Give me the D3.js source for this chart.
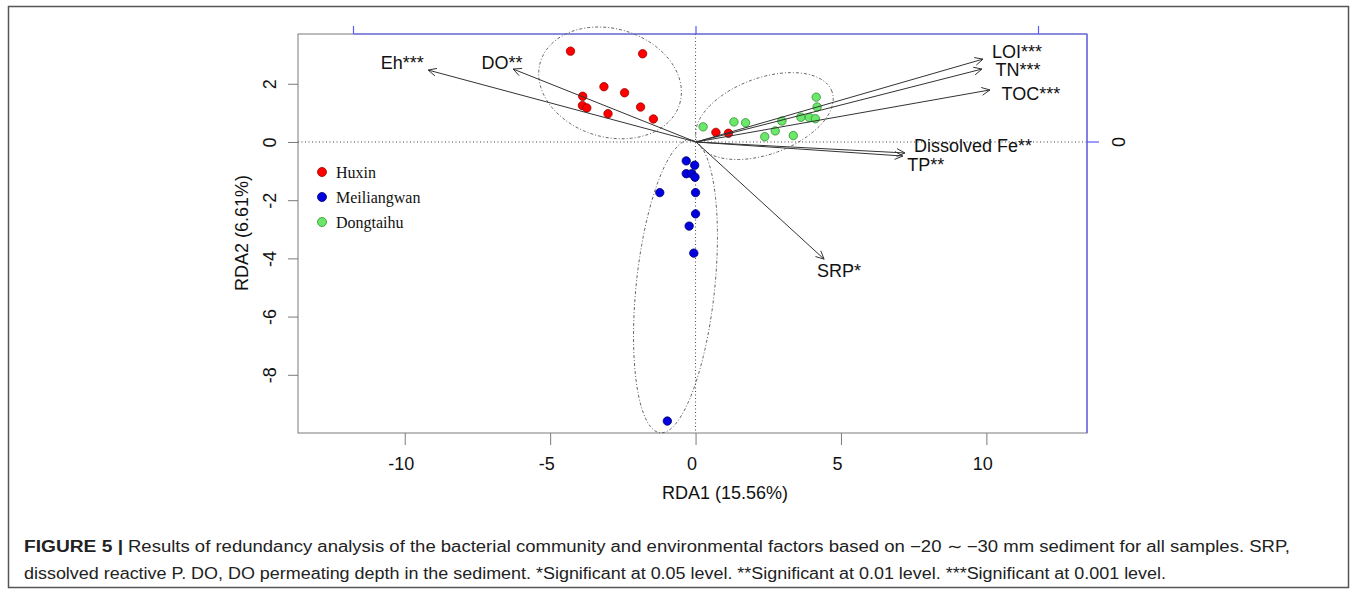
<!DOCTYPE html>
<html><head><meta charset="utf-8">
<script src="https://cdn.jsdelivr.net/npm/d3@7"></script>
<style>body{margin:0;background:#fff}svg{display:block}</style>
</head><body>
<svg id="c" width="1357" height="593"></svg>
<script>
// ---------- data ----------
const groups = ["Huxin", "Meiliangwan", "Dongtaihu"];
const huxin = [[-4.30,3.12],[-1.82,3.03],[-3.15,1.90],[-2.44,1.69],[-3.88,1.57],[-3.89,1.25],
               [-3.74,1.17],[-3.01,0.97],[-1.89,1.20],[-1.45,0.79],[0.70,0.33],[1.13,0.30]];
const meiliangwan = [[-0.32,-0.65],[-0.03,-0.80],[-0.32,-1.09],[-0.13,-1.09],[-0.02,-1.21],
                     [-1.23,-1.74],[0.00,-1.74],[0.00,-2.47],[-0.22,-2.89],[-0.06,-3.82],[-0.97,-9.59]];
const dongtaihu = [[0.26,0.52],[1.32,0.69],[1.72,0.66],[2.38,0.18],[2.74,0.38],[2.97,0.72],
                   [3.36,0.22],[3.62,0.85],[3.91,0.84],[4.12,0.80],[4.15,1.54],[4.18,1.20]];
// dispersion ellipses (centre, semi-axes, angle of major axis in degrees)
const ellipseCx = [-2.94, -0.69, 2.37];
const ellipseCy = [2.03, -4.96, 0.89];
const ellipseA  = [2.50, 5.06, 2.47];
const ellipseB  = [1.86, 1.35, 1.31];
const ellipseAngle = [-16.7, 84, 20];
// environmental factor biplot scores (top / right axis scale)
const envFactors = ["Eh***","DO**","LOI***","TN***","TOC***","Dissolved Fe**","TP**","SRP*"];
const envX = [-0.782,-0.534,0.838,0.835,0.858,0.610,0.604,0.374];
const envY = [0.210,0.213,0.242,0.213,0.152,-0.032,-0.041,-0.342];
const xTicks = [-10,-5,0,5,10];
const yTicks = [-8,-6,-4,-2,0,2];
const topTicks = [-1,0,1];
const rightTicks = [0];
const xTitle = "RDA1 (15.56%)";
const yTitle = "RDA2 (6.61%)";
const captionBold = "FIGURE 5 |";
const caption1 = "Results of redundancy analysis of the bacterial community and environmental factors based on \u221220 \u223c \u221230 mm sediment for all samples. SRP,";
const caption2 = "dissolved reactive P. DO, DO permeating depth in the sediment. *Significant at 0.05 level. **Significant at 0.01 level. ***Significant at 0.001 level.";

// ---------- styles ----------
const groupFill = {"Huxin":"#ff0000","Meiliangwan":"#0000e0","Dongtaihu":"#6be86b"};
const groupStroke = {"Huxin":"#9a0000","Meiliangwan":"#00006a","Dongtaihu":"#2f8f2f"};
const labelNudge = {"Eh***":[-26,-7],"DO**":[-11,-6],"LOI***":[34,-7],"TN***":[36,1],
  "TOC***":[41,4],"Dissolved Fe**":[68,-7],"TP**":[23,9],"SRP*":[15,12]};
const FONT = "'Liberation Sans', Arial, Helvetica, sans-serif";
const BLUE = "#5a5aff", BOX = "#7a7a7a";
const fmt = d => String(d);

const svg = d3.select("#c");
const x = d3.scaleLinear().domain([-13.67, 13.46]).range([298, 1087]);
const y = d3.scaleLinear().domain([-10.0, 3.71]).range([433, 34]);
const xb = d3.scaleLinear().domain([-1, 1]).range([353.5, 1038.5]);
const yb = d3.scaleLinear().domain([-1, 1]).range([484.5, -200.5]);

// figure frame
svg.append("rect").attr("x", 8.5).attr("y", 6.5).attr("width", 1340).attr("height", 581)
  .attr("fill", "none").attr("stroke", "#555").attr("stroke-width", 1.5);

// plot box
svg.append("rect").attr("x", x.range()[0]).attr("y", y.range()[1])
  .attr("width", x.range()[1] - x.range()[0]).attr("height", y.range()[0] - y.range()[1])
  .attr("fill", "none").attr("stroke", BOX).attr("stroke-width", 1);

// zero reference lines
svg.append("line").attr("x1", x.range()[0]).attr("x2", x.range()[1]).attr("y1", y(0)).attr("y2", y(0))
  .attr("stroke", "#444").attr("stroke-dasharray", "1,2.5");
svg.append("line").attr("x1", x(0)).attr("x2", x(0)).attr("y1", y.range()[1]).attr("y2", y.range()[0])
  .attr("stroke", "#444").attr("stroke-dasharray", "1,2.5");

// bottom axis
const gx = svg.append("g").attr("transform", `translate(0,${y.range()[0]})`)
  .call(d3.axisBottom(x).tickValues(xTicks).tickSize(12).tickPadding(12).tickFormat(fmt));
gx.select(".domain").remove();
gx.selectAll("line").attr("stroke", BOX);
gx.selectAll("text").attr("font-family", FONT).attr("font-size", 18).attr("fill", "#111").attr("dx", -4);

// left axis
const gy = svg.append("g").attr("transform", `translate(${x.range()[0]},0)`)
  .call(d3.axisLeft(y).tickValues(yTicks).tickSize(10).tickFormat(fmt));
gy.select(".domain").remove();
gy.selectAll("line").attr("stroke", BOX);
gy.selectAll("text").attr("x", null).attr("dy", null).attr("text-anchor", "middle")
  .attr("transform", "translate(-22,0) rotate(-90)")
  .attr("font-family", FONT).attr("font-size", 18).attr("fill", "#111");

// top (blue) axis for biplot scores
svg.append("line").attr("x1", xb(topTicks[0])).attr("x2", x.range()[1])
  .attr("y1", y.range()[1]).attr("y2", y.range()[1]).attr("stroke", BLUE).attr("stroke-width", 1.2);
svg.selectAll(".tt").data(topTicks).join("line")
  .attr("x1", d => xb(d)).attr("x2", d => xb(d)).attr("y1", y.range()[1]).attr("y2", y.range()[1] - 8)
  .attr("stroke", BLUE).attr("stroke-width", 1.2);
// right (blue) axis
svg.append("line").attr("x1", x.range()[1]).attr("x2", x.range()[1])
  .attr("y1", y.range()[1]).attr("y2", y.range()[0]).attr("stroke", BLUE).attr("stroke-width", 1.2);
svg.selectAll(".rt").data(rightTicks).join("line")
  .attr("x1", x.range()[1]).attr("x2", x.range()[1] + 12).attr("y1", d => yb(d)).attr("y2", d => yb(d))
  .attr("stroke", BLUE).attr("stroke-width", 1.2);
svg.selectAll(".rtl").data(rightTicks).join("text")
  .attr("transform", d => `translate(${x.range()[1] + 38},${yb(d)}) rotate(-90)`)
  .attr("text-anchor", "middle").attr("font-family", FONT).attr("font-size", 18).attr("fill", "#111")
  .text(d => d);

// axis titles
svg.append("text").attr("x", 725).attr("y", 498.5).attr("text-anchor", "middle")
  .attr("font-family", FONT).attr("font-size", 18).attr("fill", "#111").text(xTitle);
svg.append("text").attr("transform", "translate(248,233) rotate(-90)").attr("text-anchor", "middle")
  .attr("font-family", FONT).attr("font-size", 18).attr("fill", "#111").text(yTitle);

// ellipses
const line = d3.line().x(d => x(d[0])).y(d => y(d[1]));
groups.forEach((g, i) => {
  const th = ellipseAngle[i] * Math.PI / 180;
  const pts = d3.range(0, 361, 3).map(a => {
    const t = a * Math.PI / 180;
    const ex = ellipseA[i] * Math.cos(t), ey = ellipseB[i] * Math.sin(t);
    return [ellipseCx[i] + ex * Math.cos(th) - ey * Math.sin(th),
            ellipseCy[i] + ex * Math.sin(th) + ey * Math.cos(th)];
  });
  svg.append("path").attr("d", line(pts)).attr("fill", "none")
    .attr("stroke", "#666").attr("stroke-width", 1).attr("stroke-dasharray", "3,2,1,2");
});

// points
const groupData = [huxin, meiliangwan, dongtaihu];
groups.forEach((g, i) => {
  svg.selectAll(".p" + i).data(groupData[i]).join("circle")
    .attr("cx", d => x(d[0])).attr("cy", d => y(d[1])).attr("r", 4.2)
    .attr("fill", groupFill[g]).attr("stroke", groupStroke[g]).attr("stroke-width", 0.8);
});

// arrows
const ox = xb(0), oy = yb(0);
envFactors.forEach((f, i) => {
  const tx = xb(envX[i]), ty = yb(envY[i]);
  const ang = Math.atan2(ty - oy, tx - ox);
  const L = 9, spread = 0.45;
  const h1 = [tx - L * Math.cos(ang - spread), ty - L * Math.sin(ang - spread)];
  const h2 = [tx - L * Math.cos(ang + spread), ty - L * Math.sin(ang + spread)];
  svg.append("path")
    .attr("d", `M${ox},${oy}L${tx},${ty}M${h1[0]},${h1[1]}L${tx},${ty}L${h2[0]},${h2[1]}`)
    .attr("fill", "none").attr("stroke", "#333").attr("stroke-width", 1);
  const n = labelNudge[f];
  svg.append("text").attr("x", tx + n[0]).attr("y", ty + n[1])
    .attr("text-anchor", "middle").attr("dominant-baseline", "central")
    .attr("font-family", FONT).attr("font-size", 18).attr("fill", "#111").text(f);
});

// legend
const legY = [172, 197, 222];
groups.forEach((g, i) => {
  svg.append("circle").attr("cx", 322).attr("cy", legY[i]).attr("r", 4.5)
    .attr("fill", groupFill[g]).attr("stroke", groupStroke[g]).attr("stroke-width", 0.8);
  svg.append("text").attr("x", 336).attr("y", legY[i] + 5.5)
    .attr("font-family", "'Liberation Serif', 'Times New Roman', serif").attr("font-size", 16)
    .attr("fill", "#111").text(g);
});

// caption
const capFont = "'Liberation Sans Narrow', 'Liberation Sans', Arial, sans-serif";
svg.append("text").attr("x", 24).attr("y", 551.5).attr("font-family", capFont).attr("font-size", 16)
  .attr("font-weight", "bold").attr("fill", "#222").attr("textLength", 99).attr("lengthAdjust", "spacingAndGlyphs")
  .text(captionBold);
svg.append("text").attr("x", 128).attr("y", 551.5).attr("font-family", capFont).attr("font-size", 16)
  .attr("fill", "#222").attr("textLength", 1162).attr("lengthAdjust", "spacingAndGlyphs").text(caption1);
svg.append("text").attr("x", 24).attr("y", 578.5).attr("font-family", capFont).attr("font-size", 16)
  .attr("fill", "#222").attr("textLength", 1142).attr("lengthAdjust", "spacingAndGlyphs").text(caption2);
</script>
</body></html>
